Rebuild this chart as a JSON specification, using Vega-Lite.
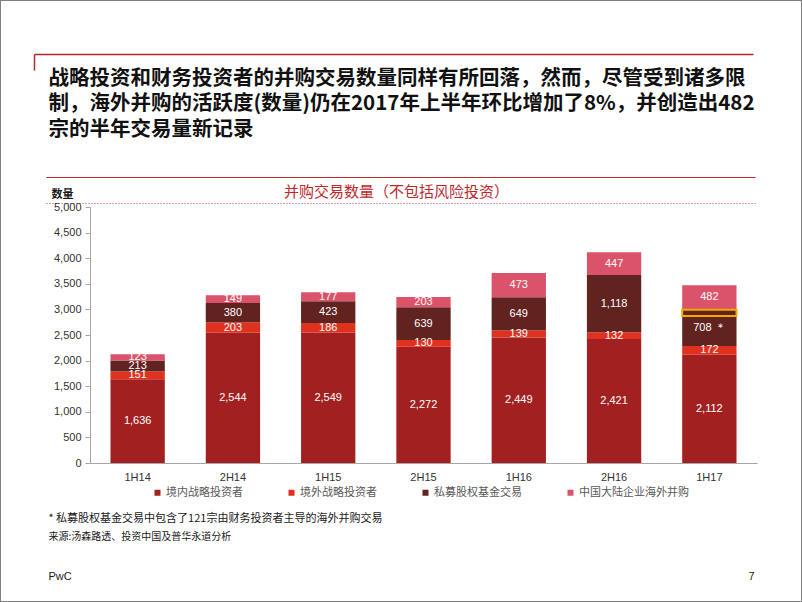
{
  "$schema": "https://vega.github.io/schema/vega-lite/v6.json",
  "width": 802,
  "height": 602,
  "padding": 0,
  "autosize": {"type": "none"},
  "background": "white",
  "config": {
    "view": {"stroke": "#808080", "strokeWidth": 2},
    "axis": {"grid": false},
    "legend": {"labelFont": "Noto Sans CJK SC"}
  },
  "data": {
    "values": [
      {"period": "1H14", "series": "境内战略投资者", "order": 1, "value": 1636, "fin": 0, "note": ""},
      {"period": "1H14", "series": "境外战略投资者", "order": 2, "value": 151, "fin": 0, "note": ""},
      {"period": "1H14", "series": "私募股权基金交易", "order": 3, "value": 213, "fin": 0, "note": ""},
      {"period": "1H14", "series": "中国大陆企业海外并购", "order": 4, "value": 123, "fin": 0, "note": ""},
      {"period": "2H14", "series": "境内战略投资者", "order": 1, "value": 2544, "fin": 0, "note": ""},
      {"period": "2H14", "series": "境外战略投资者", "order": 2, "value": 203, "fin": 0, "note": ""},
      {"period": "2H14", "series": "私募股权基金交易", "order": 3, "value": 380, "fin": 0, "note": ""},
      {"period": "2H14", "series": "中国大陆企业海外并购", "order": 4, "value": 149, "fin": 0, "note": ""},
      {"period": "1H15", "series": "境内战略投资者", "order": 1, "value": 2549, "fin": 0, "note": ""},
      {"period": "1H15", "series": "境外战略投资者", "order": 2, "value": 186, "fin": 0, "note": ""},
      {"period": "1H15", "series": "私募股权基金交易", "order": 3, "value": 423, "fin": 0, "note": ""},
      {"period": "1H15", "series": "中国大陆企业海外并购", "order": 4, "value": 177, "fin": 0, "note": ""},
      {"period": "2H15", "series": "境内战略投资者", "order": 1, "value": 2272, "fin": 0, "note": ""},
      {"period": "2H15", "series": "境外战略投资者", "order": 2, "value": 130, "fin": 0, "note": ""},
      {"period": "2H15", "series": "私募股权基金交易", "order": 3, "value": 639, "fin": 0, "note": ""},
      {"period": "2H15", "series": "中国大陆企业海外并购", "order": 4, "value": 203, "fin": 0, "note": ""},
      {"period": "1H16", "series": "境内战略投资者", "order": 1, "value": 2449, "fin": 0, "note": ""},
      {"period": "1H16", "series": "境外战略投资者", "order": 2, "value": 139, "fin": 0, "note": ""},
      {"period": "1H16", "series": "私募股权基金交易", "order": 3, "value": 649, "fin": 0, "note": ""},
      {"period": "1H16", "series": "中国大陆企业海外并购", "order": 4, "value": 473, "fin": 0, "note": ""},
      {"period": "2H16", "series": "境内战略投资者", "order": 1, "value": 2421, "fin": 0, "note": ""},
      {"period": "2H16", "series": "境外战略投资者", "order": 2, "value": 132, "fin": 0, "note": ""},
      {"period": "2H16", "series": "私募股权基金交易", "order": 3, "value": 1118, "fin": 0, "note": ""},
      {"period": "2H16", "series": "中国大陆企业海外并购", "order": 4, "value": 447, "fin": 0, "note": ""},
      {"period": "1H17", "series": "境内战略投资者", "order": 1, "value": 2112, "fin": 0, "note": ""},
      {"period": "1H17", "series": "境外战略投资者", "order": 2, "value": 172, "fin": 0, "note": ""},
      {"period": "1H17", "series": "私募股权基金交易", "order": 3, "value": 708, "fin": 121, "note": "＊"},
      {"period": "1H17", "series": "中国大陆企业海外并购", "order": 4, "value": 482, "fin": 0, "note": ""}
    ]
  },
  "transform": [
    {"stack": "value", "groupby": ["period"], "sort": [{"field": "order", "order": "ascending"}], "as": ["y0", "y1"]},
    {"calculate": "(datum.y0 + datum.y1) / 2", "as": "mid"},
    {"calculate": "datum.y1 - datum.fin", "as": "h0"},
    {"calculate": "format(datum.value, ',') + (datum.note ? ' ' + datum.note : '')", "as": "label"}
  ],
  "resolve": {"scale": {"x": "independent", "y": "independent"}, "axis": {"x": "independent", "y": "independent"}},
  "layer": [
    {
      "mark": {"type": "bar"},
      "encoding": {
        "x": {
          "field": "period", "type": "nominal",
          "scale": {"domain": ["1H14", "2H14", "1H15", "2H15", "1H16", "2H16", "1H17"], "range": [90, 757], "paddingInner": 0.43, "paddingOuter": 0.215},
          "axis": {
            "orient": "bottom", "offset": -139, "labelAngle": 0, "ticks": false, "labelPadding": 8,
            "domainColor": "#A6A6A6", "labelFont": "Liberation Sans", "labelFontSize": 11, "labelColor": "#333333",
            "title": "* 私募股权基金交易中包含了121宗由财务投资者主导的海外并购交易",
            "titleX": 48, "titleY": 58, "titleAlign": "left", "titleBaseline": "alphabetic",
            "titleFont": "Noto Sans CJK SC", "titleFontSize": 11, "titleFontWeight": "normal", "titleColor": "#1a1a1a", "titleLimit": 800
          }
        },
        "y": {
          "field": "y0", "type": "quantitative",
          "scale": {"domain": [0, 5000], "range": [463, 207], "nice": false, "zero": true},
          "axis": {
            "orient": "left", "offset": -90, "values": [0, 500, 1000, 1500, 2000, 2500, 3000, 3500, 4000, 4500, 5000],
            "labelExpr": "format(datum.value, ',')", "tickSize": 5, "tickColor": "#A6A6A6", "domainColor": "#A6A6A6", "labelPadding": 4,
            "labelFont": "Liberation Sans", "labelFontSize": 11, "labelColor": "#333333",
            "title": "数量", "titleAngle": 0, "titleX": -39, "titleY": 197, "titleAlign": "left", "titleBaseline": "alphabetic",
            "titleFont": "Noto Sans CJK SC", "titleFontSize": 11, "titleFontWeight": "bold", "titleColor": "#1a1a1a"
          }
        },
        "y2": {"field": "y1"},
        "color": {
          "field": "series", "type": "nominal",
          "scale": {"domain": ["境内战略投资者", "境外战略投资者", "私募股权基金交易", "中国大陆企业海外并购"], "range": ["#A32020", "#E0301E", "#602320", "#DB536A"]},
          "legend": {
            "orient": "none", "legendX": 152, "legendY": 487, "direction": "horizontal", "title": null,
            "symbolType": "square", "symbolSize": 36, "symbolStrokeWidth": 0, "labelOffset": 3, "columnPadding": 43, "padding": 0,
            "labelFont": "Noto Sans CJK SC", "labelFontSize": 11, "labelColor": "#595959"
          }
        }
      }
    },
    {
      "transform": [{"filter": "datum.fin > 0"}],
      "mark": {"type": "bar", "fill": "#602320", "stroke": "#F2A900", "strokeWidth": 2},
      "encoding": {
        "x": {
          "field": "period", "type": "nominal",
          "scale": {"domain": ["1H14", "2H14", "1H15", "2H15", "1H16", "2H16", "1H17"], "range": [90, 757], "paddingInner": 0.43, "paddingOuter": 0.215},
          "axis": {
            "orient": "bottom", "offset": -139, "domain": false, "ticks": false, "labels": false,
            "title": "PwC", "titleX": 48, "titleY": 116, "titleAlign": "left", "titleBaseline": "alphabetic",
            "titleFont": "Liberation Sans", "titleFontSize": 11, "titleFontWeight": "normal", "titleColor": "#1a1a1a"
          }
        },
        "y": {
          "field": "h0", "type": "quantitative",
          "scale": {"domain": [0, 5000], "range": [463, 207], "nice": false, "zero": true},
          "axis": {
            "orient": "left", "offset": 0, "domain": false, "ticks": false, "labels": false,
            "title": "7", "titleAngle": 0, "titleX": 751, "titleY": 579, "titleAlign": "center", "titleBaseline": "alphabetic",
            "titleFont": "Liberation Sans", "titleFontSize": 11, "titleFontWeight": "normal", "titleColor": "#1a1a1a"
          }
        },
        "y2": {"field": "y1"}
      }
    },
    {
      "mark": {"type": "text", "color": "#FFFFFF", "font": "Liberation Sans", "fontSize": 11, "align": "center", "baseline": "middle"},
      "encoding": {
        "x": {
          "field": "period", "type": "nominal",
          "scale": {"domain": ["1H14", "2H14", "1H15", "2H15", "1H16", "2H16", "1H17"], "range": [90, 757], "paddingInner": 0.43, "paddingOuter": 0.215},
          "axis": {
            "orient": "bottom", "offset": -139, "domain": false, "ticks": false, "labels": false,
            "title": "来源:汤森路透、投资中国及普华永道分析", "titleX": 48, "titleY": 76, "titleAlign": "left", "titleBaseline": "alphabetic",
            "titleFont": "Noto Sans CJK SC", "titleFontSize": 10, "titleFontWeight": "normal", "titleColor": "#1a1a1a", "titleLimit": 800
          }
        },
        "y": {
          "field": "mid", "type": "quantitative",
          "scale": {"domain": [0, 5000], "range": [463, 207], "nice": false, "zero": true},
          "axis": null
        },
        "text": {"field": "label"}
      }
    },
    {
      "mark": {"type": "point", "opacity": 0},
      "encoding": {
        "x": {
          "field": "period", "type": "nominal",
          "scale": {"range": [34, 753]},
          "axis": {
            "orient": "top", "offset": -54, "domain": true, "domainColor": "#B5252B", "domainWidth": 1.5, "ticks": false, "labels": false,
            "title": ["战略投资和财务投资者的并购交易数量同样有所回落，然而，尽管受到诸多限", "制，海外并购的活跃度(数量)仍在2017年上半年环比增加了8%，并创造出482", "宗的半年交易量新记录"],
            "titleX": 48, "titleY": 30, "titleAlign": "left", "titleBaseline": "alphabetic", "titleLineHeight": 25.5,
            "titleFont": "Noto Sans CJK SC", "titleFontSize": 20.5, "titleFontWeight": "bold", "titleColor": "#111111", "titleLimit": 1000
          }
        },
        "y": {
          "field": "value", "type": "quantitative",
          "scale": {"domain": [0, 1], "range": [70, 54], "nice": false},
          "axis": {
            "orient": "left", "offset": -34, "domain": true, "domainColor": "#B5252B", "domainWidth": 1.5,
            "ticks": false, "labels": false, "title": null, "grid": false
          }
        }
      }
    },
    {
      "mark": {"type": "point", "opacity": 0},
      "encoding": {
        "x": {
          "field": "period", "type": "nominal",
          "scale": {"range": [46, 755]},
          "axis": {
            "orient": "top", "offset": -177, "domain": true, "domainColor": "#C0272D", "domainWidth": 1, "ticks": false, "labels": false,
            "title": "并购交易数量（不包括风险投资）",
            "titleX": 396, "titleY": 19, "titleAlign": "center", "titleBaseline": "alphabetic",
            "titleFont": "Noto Sans CJK SC", "titleFontSize": 15, "titleFontWeight": "normal", "titleColor": "#C0272D"
          }
        }
      }
    },
    {
      "mark": {"type": "point", "opacity": 0},
      "encoding": {
        "x": {
          "field": "period", "type": "nominal",
          "scale": {"range": [46, 755]},
          "axis": {
            "orient": "top", "offset": -203, "domain": true, "domainColor": "#C0404F", "domainWidth": 1, "domainDash": [1, 2],
            "ticks": false, "labels": false, "title": null
          }
        }
      }
    }
  ]
}
